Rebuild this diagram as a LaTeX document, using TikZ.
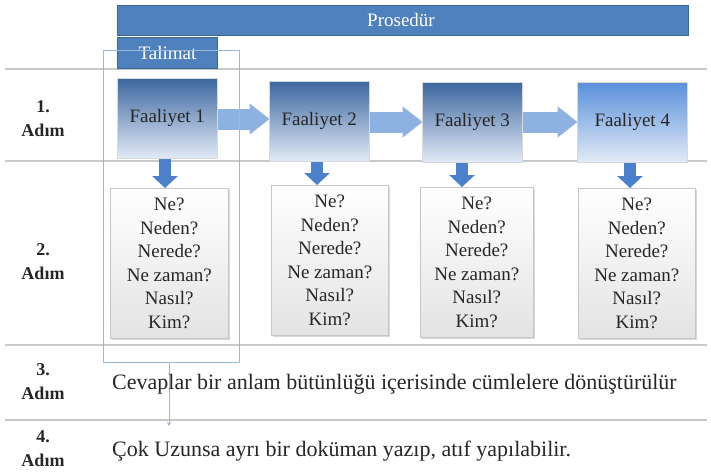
\documentclass[tikz,border=0pt]{standalone}
\usepackage{fontspec}
\setmainfont{Liberation Serif}
\usetikzlibrary{arrows.meta,shadows}
\definecolor{barblue}{HTML}{4F81BD}
\definecolor{barborder}{HTML}{3B6698}
\definecolor{fdark}{HTML}{3D67A0}
\definecolor{flight}{HTML}{E2EAF6}
\definecolor{f4top}{HTML}{5A90DA}
\definecolor{arrowblue}{HTML}{8DB1E0}
\definecolor{downblue}{HTML}{4A80CC}
\definecolor{outline}{HTML}{9BB7DB}
\definecolor{sepgray}{HTML}{C8C8C8}
\definecolor{txt}{HTML}{262626}
\tikzset{
  bar/.style={draw=barborder, line width=0.8pt, fill=barblue, text=white, inner sep=0pt, font=\fontsize{19}{19}\selectfont},
  fbox/.style={draw=gray!30, line width=0.5pt, top color=fdark, bottom color=flight, minimum width=100pt, minimum height=80pt, inner sep=0pt, text=txt, font=\fontsize{19}{19}\selectfont, drop shadow={shadow xshift=1pt, shadow yshift=-1pt, opacity=0.25}},
  qbox/.style={draw=gray!45, line width=0.5pt, top color=white, bottom color=gray!22, minimum height=150pt, inner sep=0pt, align=center, text=txt, font=\fontsize{19}{23.5}\selectfont, drop shadow={shadow xshift=1.5pt, shadow yshift=-1.5pt, opacity=0.3}},
  sep/.style={draw=sepgray, line width=1.2pt},
  rarrow/.style={draw=arrowblue, line width=21pt, -{Triangle[length=20pt, width=30pt]}, shorten >=-0.5pt},
  darrow/.style={draw=downblue, line width=12pt, -{Triangle[length=12pt, width=25pt]}},
  step label/.style={align=center, text=txt, font=\bfseries\fontsize{18}{24}\selectfont},
  line text/.style={anchor=west, text=txt, font=\fontsize{22}{22}\selectfont, inner sep=0pt},
}
\begin{document}
\begin{tikzpicture}[x=1pt,y=-1pt]
\useasboundingbox (0,0) rectangle (711,472);
% separators
\foreach \yy in {69,161,345,420} \draw[sep] (5,\yy) -- (707,\yy);
% header bars
\node[bar, minimum width=571pt, minimum height=30pt, anchor=north west] (pro) at (117,5) {};
\node[text=white, font=\fontsize{19}{19}\selectfont] (prot) at (401,20) {Prosedür};
\node[bar, minimum width=100pt, minimum height=31pt, anchor=north west] (tal) at (117,37) {Talimat};
% activity boxes
\node[fbox, anchor=north west] (f1) at (117,78) {Faaliyet 1};
\node[fbox, anchor=north west] (f2) at (269,81) {Faaliyet 2};
\node[fbox, anchor=north west] (f3) at (422,82) {Faaliyet 3};
\node[fbox, anchor=north west, minimum width=110pt, top color=f4top] (f4) at (577,82) {Faaliyet 4};
% question boxes
\node[qbox, minimum width=118pt, anchor=north west] (q1) at (110,188) {Ne?\\Neden?\\Nerede?\\Ne zaman?\\Nasıl?\\Kim?};
\node[qbox, minimum width=117pt, anchor=north west] (q2) at (271,185) {Ne?\\Neden?\\Nerede?\\Ne zaman?\\Nasıl?\\Kim?};
\node[qbox, minimum width=113pt, anchor=north west] (q3) at (420,187) {Ne?\\Neden?\\Nerede?\\Ne zaman?\\Nasıl?\\Kim?};
\node[qbox, minimum width=117pt, anchor=north west] (q4) at (578,188) {Ne?\\Neden?\\Nerede?\\Ne zaman?\\Nasıl?\\Kim?};
% horizontal block arrows
\draw[rarrow] (f1.east |- 0,119) -- (f2.west |- 0,119);
\draw[rarrow] (f2.east |- 0,122) -- (f3.west |- 0,122);
\draw[rarrow] (f3.east |- 0,122) -- (f4.west |- 0,122);
% down arrows
\draw[darrow] (f1.south -| 165,0) -- (q1.north -| 165,0);
\draw[darrow] (f2.south -| 317,0) -- (q2.north -| 317,0);
\draw[darrow] (f3.south -| 462,0) -- (q3.north -| 462,0);
\draw[darrow] (f4.south -| 630,0) -- (q4.north -| 630,0);
% instruction outline
\draw[outline, line width=1pt] (103,50) rectangle (239,362);
\coordinate (ob) at (169,362);
\coordinate (oe) at (169,426);
\draw[outline, line width=1pt, -{Stealth[length=4pt,width=4pt]}] (ob) -- (oe);
% step labels
\node[step label] (s1) at (43,119) {1.\\Adım};
\node[step label] (s2) at (43,262) {2.\\Adım};
\node[step label] (s3) at (43,382) {3.\\Adım};
\node[step label] (s4) at (43,449) {4.\\Adım};
% texts
\node[line text] (t3) at (112,384) {Cevaplar bir anlam bütünlüğü içerisinde cümlelere dönüştürülür};
\node[line text] (t4) at (112,451) {Çok Uzunsa ayrı bir doküman yazıp, atıf yapılabilir.};
\end{tikzpicture}
\end{document}
